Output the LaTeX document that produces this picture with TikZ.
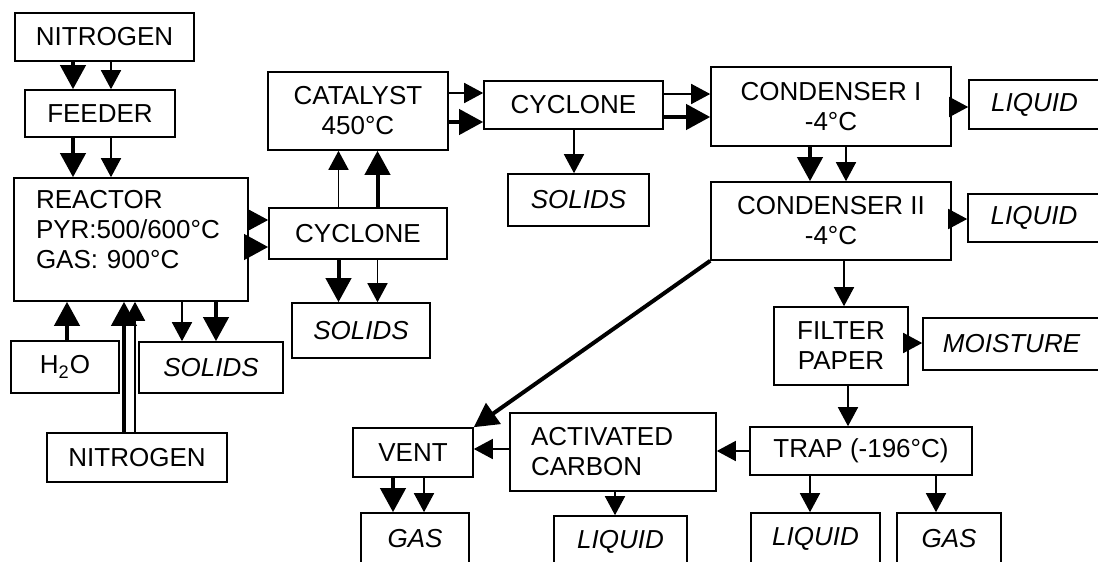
\documentclass[tikz,border=0pt]{standalone}
\usepackage{fontspec}
\setmainfont{Liberation Sans}
\usetikzlibrary{arrows.meta}

\begin{document}
\begin{tikzpicture}[
  x=0.5pt, y=-0.5pt,
  unit/.style={
    rectangle, draw=black, line width=0.8pt, inner sep=0pt,
    font=\fontsize{13}{15}\selectfont, align=center
  },
  product/.style={unit, font=\fontsize{13}{15}\selectfont\itshape},
  flow/.style={draw=black, line width=0.8pt, -{Triangle[width=10pt,length=9.5pt]}},
  heavy/.style={draw=black, line width=2pt, -{Triangle[width=12.5pt,length=12pt]}}
]

\useasboundingbox (0,0) rectangle (1098,562);
\fill[white] (0,0) rectangle (1098,562);
\clip (0,0) rectangle (1098,562);

% -- UNITS --------------------------------------------------------

\node[unit, minimum width=89.5pt, minimum height=24pt] (nitrogen) at (104.5,37) {NITROGEN};
\node[unit, minimum width=75pt, minimum height=23.5pt] (feeder) at (100,113.5) {FEEDER};
\node[unit, minimum width=117pt, minimum height=61.5pt,
      text width=95pt, inner xsep=11pt, align=left] (reactor) at (131,239.5) {%
  \begin{tabular}{@{}l@{}}
    REACTOR \\
    PYR:500/600°C \\
    GAS: 900°C \\[7.5pt]
  \end{tabular}
};
\node[unit, minimum width=54pt, minimum height=26pt] (water) at (65,367) {H\textsubscript{2}O};
\node[product, minimum width=72pt, minimum height=25.5pt] (solids) at (211,367.5) {SOLIDS};
\node[unit, minimum width=90pt, minimum height=24.5pt] (nitrogen2) at (137,457.5) {NITROGEN};

\node[unit, minimum width=89pt, minimum height=25.5pt] (cyclone) at (358,233.5) {CYCLONE};
\node[product, minimum width=69pt, minimum height=27.5pt] (solids2) at (361,330.5) {SOLIDS};
\node[unit, minimum width=90pt, minimum height=39pt] (catalyst) at (358,111) {CATALYST\\450°C};

\node[unit, minimum width=89.5pt, minimum height=24pt] (cyclone2) at (573.5,105) {CYCLONE};
\node[product, minimum width=70.5pt, minimum height=26pt] (solids3) at (578.5,200) {SOLIDS};

\node[unit, minimum width=120pt, minimum height=39.5pt] (cond1) at (831,106.5) {CONDENSER I\\-4°C};
\node[product, minimum width=65.5pt, minimum height=24.5pt] (liquid1) at (1034.5,104.5) {LIQUID};
\node[unit, minimum width=120pt, minimum height=39pt] (cond2) at (831,221) {CONDENSER II\\-4°C};
\node[product, minimum width=66pt, minimum height=24pt] (liquid2) at (1034,218) {LIQUID};

\node[unit, minimum width=67pt, minimum height=39pt] (filter) at (841,346) {FILTER\\PAPER};
\node[product, minimum width=88.5pt, minimum height=26pt] (moisture) at (1011.5,344) {MOISTURE};
\node[unit, minimum width=111pt, minimum height=24pt] (trap) at (861,451) {TRAP (-196°C)};
\node[product, minimum width=64.5pt, minimum height=26pt] (liquid3) at (815.5,539) {LIQUID};
\node[product, minimum width=52pt, minimum height=26pt] (gas2) at (949,539) {GAS};

\node[unit, minimum width=103pt, minimum height=39pt,
      text width=82pt, inner xsep=10.5pt, align=left] (carbon) at (613,452) {ACTIVATED\\CARBON};
\node[product, minimum width=66.5pt, minimum height=26pt] (liquid4) at (620.5,542) {LIQUID};
\node[unit, minimum width=60pt, minimum height=24.5pt] (vent) at (413,452.5) {VENT};
\node[product, minimum width=54pt, minimum height=26pt] (gas1) at (415,539) {GAS};

% -- FLOWS --------------------------------------------------------

% nitrogen -> feeder
\draw[heavy] ([xshift=-15.75pt]nitrogen.south) -- ([xshift=-13.5pt]feeder.north);
\draw[flow]  ([xshift=3.25pt]nitrogen.south)   -- ([xshift=5.5pt]feeder.north);
% feeder -> reactor
\draw[heavy] ([xshift=-13.5pt]feeder.south) -- ([xshift=-29pt]reactor.north);
\draw[flow]  ([xshift=5.5pt]feeder.south)   -- ([xshift=-10pt]reactor.north);
% water, nitrogen -> reactor
\draw[heavy] ([xshift=1pt]water.north)        -- ([xshift=-32pt]reactor.south);
\draw[heavy] ([xshift=-6.5pt]nitrogen2.north) -- ([xshift=-3.5pt]reactor.south);
\draw[flow]  ([xshift=-1pt]nitrogen2.north)   -- ([xshift=2pt]reactor.south);
% reactor -> solids
\draw[flow]  ([xshift=25.5pt]reactor.south) -- ([xshift=-14.5pt]solids.north);
\draw[heavy] ([xshift=42.5pt]reactor.south) -- ([xshift=2.5pt]solids.north);
% reactor -> cyclone
\draw[flow]  ([yshift=9.75pt]reactor.east)  -- ([yshift=6.75pt]cyclone.west);
\draw[heavy] ([yshift=-3.75pt]reactor.east) -- ([yshift=-6.75pt]cyclone.west);
% cyclone -> catalyst
\draw[flow]  ([xshift=-9.75pt]cyclone.north) -- ([xshift=-9.75pt]catalyst.south);
\draw[heavy] ([xshift=9.75pt]cyclone.north)  -- ([xshift=9.75pt]catalyst.south);
% cyclone -> solids
\draw[heavy] ([xshift=-9.75pt]cyclone.south) -- ([xshift=-11.25pt]solids2.north);
\draw[flow]  ([xshift=9.75pt]cyclone.south)  -- ([xshift=8.25pt]solids2.north);
% catalyst -> cyclone 2
\draw[flow]  ([yshift=9pt]catalyst.east)    -- ([yshift=6pt]cyclone2.west);
\draw[heavy] ([yshift=-5.5pt]catalyst.east) -- ([yshift=-8.5pt]cyclone2.west);
% cyclone 2 -> solids, condenser I
\draw[flow]  ([xshift=0.25pt]cyclone2.south) -- ([xshift=-2.25pt]solids3.north);
\draw[flow]  ([yshift=5.5pt]cyclone2.east)   -- ([yshift=6.25pt]cond1.west);
\draw[heavy] ([yshift=-6pt]cyclone2.east)    -- ([yshift=-5.25pt]cond1.west);
% condenser I -> liquid, condenser II
\draw[flow]  ([yshift=-0.25pt]cond1.east)   -- ([yshift=-1.25pt]liquid1.west);
\draw[heavy] ([xshift=-10.5pt]cond1.south)  -- ([xshift=-10.5pt]cond2.north);
\draw[flow]  ([xshift=7.5pt]cond1.south)    -- ([xshift=7.5pt]cond2.north);
% condenser II -> liquid, filter, vent
\draw[flow]  ([yshift=1pt]cond2.east)     -- ([yshift=-0.5pt]liquid2.west);
\draw[flow]  ([xshift=6.5pt]cond2.south)  -- ([xshift=1.5pt]filter.north);
\draw[heavy] (cond2.south west) -- (vent.north east);
% filter -> moisture, trap
\draw[flow]  ([yshift=1.5pt]filter.east)   -- ([yshift=0.5pt]moisture.west);
\draw[flow]  ([xshift=3.5pt]filter.south)  -- ([xshift=-6.5pt]trap.north);
% trap -> liquid, gas, carbon
\draw[flow]  ([xshift=-25.5pt]trap.south) -- ([xshift=-2.75pt]liquid3.north);
\draw[flow]  ([xshift=37.5pt]trap.south)  -- ([xshift=-6.5pt]gas2.north);
\draw[flow]  (trap.west) -- ([yshift=0.5pt]carbon.east);
% carbon -> vent, liquid
\draw[flow]  ([yshift=1.5pt]carbon.west)  -- ([yshift=1.75pt]vent.east);
\draw[flow]  ([xshift=1pt]carbon.south)   -- ([xshift=-2.75pt]liquid4.north);
% vent -> gas
\draw[heavy] ([xshift=-10pt]vent.south) -- ([xshift=-11pt]gas1.north);
\draw[flow]  ([xshift=5.5pt]vent.south) -- ([xshift=4.5pt]gas1.north);

\end{tikzpicture}
\end{document}
